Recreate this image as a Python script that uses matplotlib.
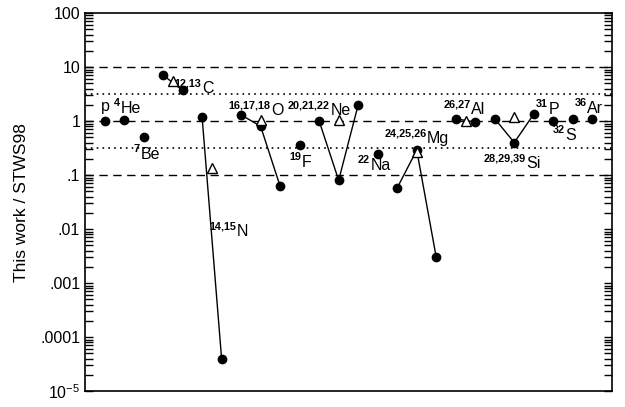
import numpy as np
import matplotlib.pyplot as plt
from matplotlib.ticker import FixedLocator, FixedFormatter, LogLocator, NullFormatter

plt.rcParams['font.family'] = ['Liberation Sans', 'DejaVu Sans']
plt.rcParams['mathtext.fontset'] = 'custom'
plt.rcParams['mathtext.rm'] = 'Liberation Sans'
plt.rcParams['mathtext.it'] = 'Liberation Sans'

# isotope positions (1 = p, 2 = 4He, ...) and ratios this work / STWS98
pos_p, val_p = [1], [1.0]
pos_he, val_he = [2], [1.05]
pos_be, val_be = [3], [0.5]
pos_c, val_c = [4, 5], [7.1, 3.7]
pos_n, val_n = [6, 7], [1.2, 4e-5]
pos_o, val_o = [8, 9, 10], [1.3, 0.8, 0.062]
pos_f, val_f = [11], [0.36]
pos_ne, val_ne = [12, 13, 14], [1.0, 0.08, 2.0]
pos_na, val_na = [15], [0.25]
pos_mg, val_mg = [16, 17, 18], [0.058, 0.29, 0.003]
pos_al, val_al = [19, 20], [1.1, 0.96]
pos_si, val_si = [21, 22, 23], [1.1, 0.4, 1.35]
pos_pp, val_pp = [24], [1.0]
pos_s, val_s = [25], [1.1]
pos_ar, val_ar = [26], [1.1]

# elemental totals (open triangles)
tri_pos = [4.5, 6.5, 9, 13, 17, 19.5, 22]
tri_val = [5.5, 0.135, 1.05, 1.05, 0.27, 1.0, 1.2]

fig = plt.figure(figsize=(6.25, 4.07), dpi=100)
ax = fig.add_axes([0.136, 0.039, 0.843, 0.929])

for yv in [10, 1, 0.1]:
    ax.axhline(yv, color='black', lw=1.0, ls=(0, (6, 4)), zorder=1)
for yv in [3.16, 0.316]:
    ax.axhline(yv, color='black', lw=1.2, ls=(0, (1, 2.5)), zorder=1)

groups = [(pos_p, val_p), (pos_he, val_he), (pos_be, val_be), (pos_c, val_c),
          (pos_n, val_n), (pos_o, val_o), (pos_f, val_f), (pos_ne, val_ne),
          (pos_na, val_na), (pos_mg, val_mg), (pos_al, val_al), (pos_si, val_si),
          (pos_pp, val_pp), (pos_s, val_s), (pos_ar, val_ar)]
for xs, ys in groups:
    ax.plot(xs, ys, '-', color='black', lw=1.0, marker='o', ms=6, zorder=3)

ax.plot(tri_pos, tri_val, ls='none', marker='^', ms=6.5, mfc='white', mec='black',
        mew=1.0, zorder=4)

def label(x, y, sup, main):
    # main symbol starts at x, mass numbers sit just left of it, raised
    ax.annotate(main, (x, y), xytext=(0, 0), textcoords='offset points',
                ha='left', va='baseline', fontsize=11.5)
    if sup:
        ax.annotate(sup, (x, y), xytext=(-0.5, 5), textcoords='offset points',
                    ha='right', va='baseline', fontsize=7.8, fontweight='bold')

label(0.8, 1.53, '', 'p')
label(1.82, 1.42, '4', 'He')
label(2.84, 0.2, '7', 'Be')
label(6.0, 3.3, '12,13', 'C')
label(7.78, 0.0074, '14,15', 'N')
label(9.52, 1.29, '16,17,18', 'O')
label(11.1, 0.14, '19', 'F')
label(12.58, 1.29, '20,21,22', 'Ne')
label(14.62, 0.124, '22', 'Na')
label(17.53, 0.39, '24,25,26', 'Mg')
label(19.8, 1.35, '26,27', 'Al')
label(22.63, 0.135, '28,29,39', 'Si')
label(23.76, 1.35, '31', 'P')
label(24.62, 0.44, '32', 'S')
label(25.74, 1.4, '36', 'Ar')

ax.set_yscale('log')
ax.set_ylim(1e-5, 100)
ax.set_xlim(0, 27)
ax.set_xticks([])

ax.yaxis.set_major_locator(FixedLocator([1e-5, 1e-4, 1e-3, 1e-2, 0.1, 1, 10, 100]))
ax.yaxis.set_major_formatter(FixedFormatter(['$10^{-5}$', '.0001', '.001', '.01', '.1', '1', '10', '100']))
ax.yaxis.set_minor_locator(LogLocator(base=10, subs=np.arange(2, 10)))
ax.yaxis.set_minor_formatter(NullFormatter())
ax.tick_params(axis='y', which='both', direction='in', left=True, right=True,
               labelsize=11.5, length=6, width=1)
for s in ax.spines.values():
    s.set_linewidth(1.2)

ax.set_ylabel('This work / STWS98', fontsize=12.5, labelpad=8)

fig.savefig('out.png', dpi=100)
